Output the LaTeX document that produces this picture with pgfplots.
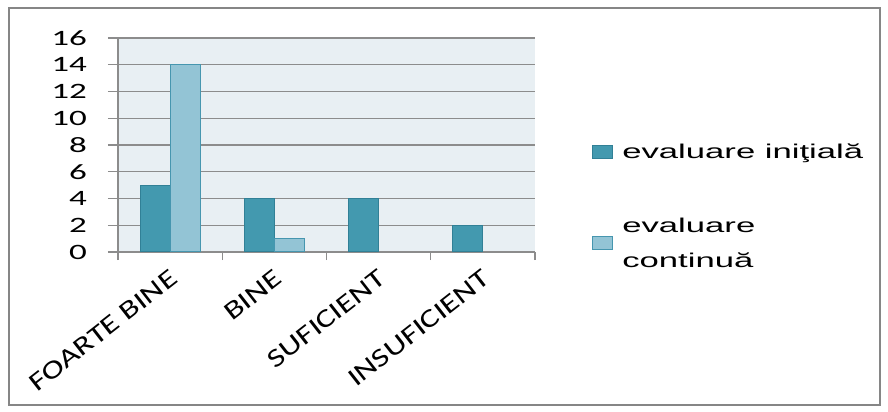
\documentclass[border=0pt]{standalone}
\usepackage{fontspec}
\usepackage{pgfplots}
\pgfplotsset{compat=1.18}
\setmainfont{Liberation Sans}
\newfontfamily\tickfont[FakeStretch=1.6]{Carlito}
\newfontfamily\xlabfont[FakeStretch=1.3]{Carlito}
\newfontfamily\legfont[FakeStretch=1.74]{Liberation Sans}
\definecolor{darkbar}{RGB}{67,153,175}
\definecolor{darkedge}{RGB}{49,128,150}
\definecolor{lightbar}{RGB}{147,196,213}
\definecolor{lightedge}{RGB}{70,150,175}
\definecolor{plotbg}{RGB}{232,239,243}
\definecolor{gridc}{RGB}{140,140,140}
\definecolor{borderc}{RGB}{134,134,134}
\pgfplotsset{mylegend/.style={legend image code/.code={\draw[##1,line width=1bp] (0bp,-6bp) rectangle (20bp,7bp);}}}
\begin{document}
\begin{tikzpicture}
\path[use as bounding box] (0,0) rectangle (888bp,412bp);
\draw[line width=2bp, borderc] (9bp,7bp) rectangle (880bp,404bp);
\begin{axis}[
  at={(118bp,160bp)}, anchor=south west,
  scale only axis, width=417bp, height=214bp,
  xmin=-0.5, xmax=3.5, ymin=0, ymax=16,
  axis background/.style={fill=plotbg},
  axis x line*=bottom, axis y line*=left,
  axis line style={-, gridc, line width=1.2bp},
  ybar=0pt, bar width=30bp,
  ytick={0,2,...,16},
  ymajorgrids, major grid style={gridc, line width=1.2bp},
  tick align=outside, major tick length=10bp,
  ytick style={gridc, line width=1.2bp},
  /pgf/number format/assume math mode=true,
  yticklabel style={font=\tickfont\fontsize{22}{24}\selectfont, anchor=east, inner sep=0pt, xshift=-21bp},
  xtick={0,1,2,3},
  xticklabels={FOARTE BINE, BINE, SUFICIENT, INSUFICIENT},
  xtick style={draw=none},
  xticklabel style={font=\xlabfont\fontsize{26}{28}\selectfont, anchor=east, inner sep=0pt, xshift=4bp, yshift=-13bp, rotate=38},
  extra x ticks={-0.5,0.5,1.5,2.5,3.5},
  extra x tick labels={},
  extra x tick style={xtick style={draw=gridc, line width=1.2bp}, major tick length=8bp, grid=none},
  legend style={at={(1.137,0.515)}, anchor=north west, draw=none, fill=none, inner sep=0pt,
    font=\legfont\fontsize{20}{33}\selectfont,
    cells={anchor=west, align=left}, row sep=54bp, column sep=7bp},
]
\addplot[fill=darkbar, draw=darkedge, line width=1bp, mylegend] coordinates {(0,5) (1,4) (2,4) (3,2)};
\addlegendentry{evaluare iniţială}
\addplot[fill=lightbar, draw=lightedge, line width=1bp, mylegend] coordinates {(0,14) (1,1)};
\addlegendentry{evaluare\\[2bp]continuă}
\end{axis}
\end{tikzpicture}
\end{document}
